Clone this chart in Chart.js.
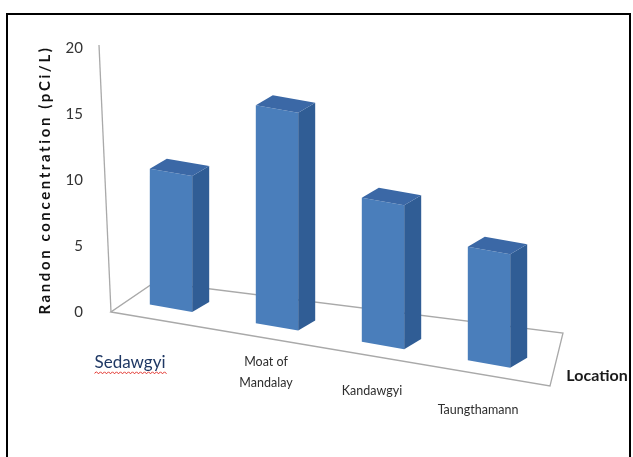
<!DOCTYPE html>
<html>
<head>
<meta charset="utf-8">
<script src="https://cdn.jsdelivr.net/npm/chart.js@4.4.1/dist/chart.umd.min.js"></script>
<style>
  body { margin: 0; background: #fff; }
  #wrap { position: relative; width: 633px; height: 457px; }
  #frame {
    position: absolute; left: 6px; top: 13px; width: 621px; height: 460px;
    border: 2px solid #000; border-bottom: none; pointer-events: none;
  }
</style>
</head>
<body>
<div id="wrap">
  <canvas id="radonChart" width="633" height="457"></canvas>
  <div id="frame"></div>
</div>
<script>
const categories = ["Sedawgyi", ["Moat of", "Mandalay"], "Kandawgyi", "Taungthamann"];
const radonValues = [10.3, 16.5, 10.9, 8.6];
const yTicks = [0, 5, 10, 15, 20];
const yTitle = "Randon concentration (pCi/L)";
const xTitle = "Location";

// vertical shear used to fake the tilted 3D floor
const shear = 0.175;
const depthX = 17;
const depthY = -13;

function shearOrigin(area) {
  return area.left + 74;
}

const threeD = {
  id: "threeD",
  beforeDatasetsDraw(chart) {
    const ctx = chart.ctx;
    const a = chart.chartArea;
    const y = chart.scales.y;
    const y0 = y.getPixelForValue(0);
    const yTop = y.getPixelForValue(yTicks[yTicks.length - 1]);

    ctx.save();
    ctx.strokeStyle = "#a9a9a9";
    ctx.lineWidth = 1.3;
    // value axis
    ctx.beginPath();
    ctx.moveTo(a.left - 19, yTop - 3);
    ctx.lineTo(a.left - 7, y0);
    ctx.stroke();
    // floor
    ctx.beginPath();
    ctx.moveTo(a.left - 7, y0);
    ctx.lineTo(a.right + 8, y0 + 74);
    ctx.lineTo(a.right + 21, y0 + 21);
    ctx.lineTo(a.left + 37, y0 - 30);
    ctx.closePath();
    ctx.stroke();
    ctx.restore();

    ctx.save();
    const xs = shearOrigin(a);
    ctx.transform(1, shear, 0, 1, 0, -shear * xs);
  },
  afterDatasetsDraw(chart) {
    const ctx = chart.ctx;
    const meta = chart.getDatasetMeta(0);
    meta.data.forEach((bar) => {
      const p = bar.getProps(["x", "y", "base", "width"], true);
      const l = p.x - p.width / 2;
      const r = p.x + p.width / 2;
      // side face
      ctx.fillStyle = "#305d95";
      ctx.beginPath();
      ctx.moveTo(r, p.y);
      ctx.lineTo(r + depthX, p.y + depthY);
      ctx.lineTo(r + depthX, p.base + depthY);
      ctx.lineTo(r, p.base);
      ctx.closePath();
      ctx.fill();
      // top face
      ctx.fillStyle = "#3b68a6";
      ctx.beginPath();
      ctx.moveTo(l, p.y);
      ctx.lineTo(l + depthX, p.y + depthY);
      ctx.lineTo(r + depthX, p.y + depthY);
      ctx.lineTo(r, p.y);
      ctx.closePath();
      ctx.fill();
    });
    ctx.restore();
  },
  afterDraw(chart) {
    const ctx = chart.ctx;
    const a = chart.chartArea;
    const x = chart.scales.x;
    const y = chart.scales.y;
    const y0 = y.getPixelForValue(0);
    const yTop = y.getPixelForValue(yTicks[yTicks.length - 1]);
    const xs = shearOrigin(a);

    ctx.save();
    ctx.textAlign = "center";
    ctx.textBaseline = "middle";

    categories.forEach((label, i) => {
      const cx = x.getPixelForValue(i);
      const baseY = y0 + shear * (cx - xs);
      if (i === 0) {
        // first label was typed in a bigger font, with the spell-check squiggle
        const tx = cx - 41;
        const ty = baseY + 54;
        ctx.font = "17px Lato";
        ctx.fillStyle = "#1f3864";
        ctx.fillText(label, tx, ty);
        const w = ctx.measureText(label).width;
        ctx.strokeStyle = "#e0302a";
        ctx.lineWidth = 1;
        ctx.beginPath();
        let sx = tx - w / 2;
        let up = true;
        ctx.moveTo(sx, ty + 11);
        while (sx < tx + w / 2) {
          sx += 2;
          ctx.lineTo(sx, ty + (up ? 9.5 : 11.5));
          up = !up;
        }
        ctx.stroke();
        return;
      }
      const lines = Array.isArray(label) ? label : [label];
      ctx.font = "12.5px Lato";
      ctx.fillStyle = "#2e2e2e";
      const ty = baseY + 46 - (lines.length - 1) * 10.5;
      lines.forEach((t, j) => {
        ctx.fillText(t, cx - 11, ty + j * 21);
      });
    });

    // category axis title
    ctx.font = "bold 16px Lato";
    ctx.fillStyle = "#1a1a1a";
    ctx.fillText(xTitle, a.right + 55, y0 + 64);

    // value axis title, letter-spaced like the original
    ctx.translate(45, (y0 + yTop) / 2);
    ctx.rotate(-Math.PI / 2);
    ctx.font = "bold 15px Lato";
    ctx.fillStyle = "#111111";
    if ("letterSpacing" in ctx) ctx.letterSpacing = "2.6px";
    ctx.fillText(yTitle, 0, 0);
    ctx.restore();
  },
};

const ctx = document.getElementById("radonChart").getContext("2d");

new Chart(ctx, {
  type: "bar",
  data: {
    labels: categories,
    datasets: [
      {
        label: "Radon",
        data: radonValues,
        backgroundColor: "#4a7ebb",
        borderWidth: 0,
        barPercentage: 0.4,
        categoryPercentage: 1,
        clip: false,
      },
    ],
  },
  options: {
    responsive: false,
    animation: false,
    layout: {
      padding: { top: 48, right: 91, bottom: 145, left: 0 },
    },
    plugins: {
      legend: { display: false },
      tooltip: { enabled: false },
    },
    scales: {
      x: {
        display: false,
      },
      y: {
        min: 0,
        max: 20,
        afterFit(scale) {
          scale.width = 118;
        },
        afterBuildTicks(scale) {
          scale.ticks = yTicks.map((v) => ({ value: v }));
        },
        grid: { display: false, drawTicks: false },
        border: { display: false },
        ticks: {
          padding: 35,
          color: "#333333",
          font: { family: "Lato", size: 15 },
        },
      },
    },
  },
  plugins: [threeD],
});
</script>
</body>
</html>
